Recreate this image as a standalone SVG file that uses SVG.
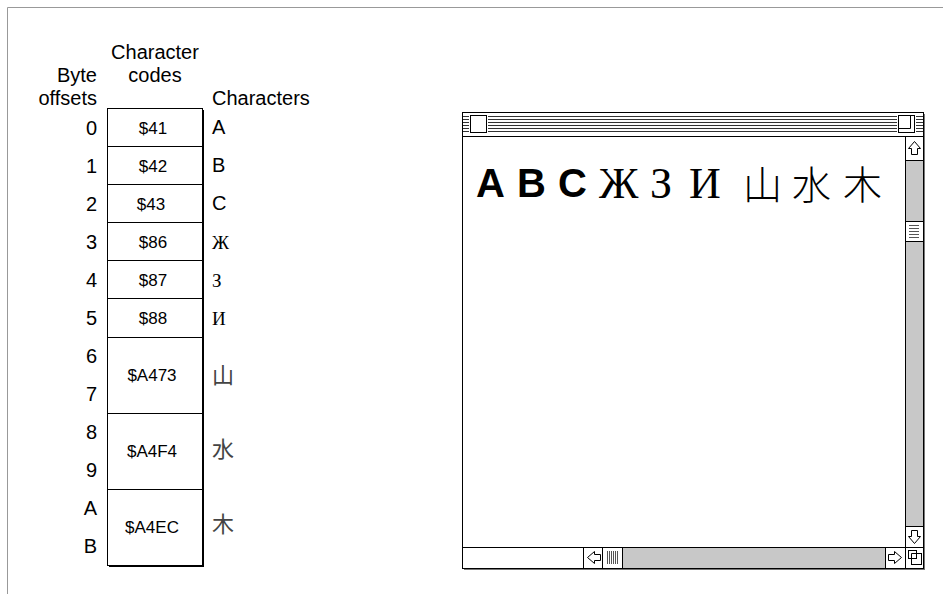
<svg xmlns="http://www.w3.org/2000/svg" width="943" height="594" viewBox="0 0 943 594">
<style>
.lbl{font-family:"Liberation Sans",Arial,sans-serif;font-size:20px;fill:#000}
.num{font-family:"Liberation Sans",Arial,sans-serif;font-size:20px;fill:#000;text-anchor:end}
.code{font-family:"Liberation Sans",Arial,sans-serif;font-size:17px;fill:#000;text-anchor:middle}
.cyr{font-family:"Liberation Serif","Times New Roman",serif;font-size:19px;fill:#000}
.cjk{font-family:"Noto Sans CJK JP","Noto Sans CJK SC",sans-serif;font-size:22px;fill:#444}
.bigA{font-family:"Liberation Sans",Arial,sans-serif;font-size:40px;font-weight:bold;fill:#000}
.bigC{font-family:"Liberation Serif","Times New Roman",serif;font-size:44px;fill:#000}
.bigK{font-family:"Noto Sans CJK JP","Noto Sans CJK SC",sans-serif;font-size:39px;font-weight:300;fill:#000}
.ln{stroke:#000;stroke-width:1;fill:none}
.stripe{stroke:#333;stroke-width:1}
.arrow{fill:#fff;stroke:#000;stroke-width:1;stroke-linejoin:miter}
</style>
<rect width="943" height="594" fill="#fff"/>
<path d="M7.5,594 V7.5 H943" fill="none" stroke="#999" stroke-width="1"/>

<g id="headers">
<text class="lbl" x="155" y="59" text-anchor="middle">Character</text>
<text class="lbl" x="155" y="82" text-anchor="middle">codes</text>
<text class="num" x="97" y="82">Byte</text>
<text class="num" x="97" y="105">offsets</text>
<text class="lbl" x="212" y="105">Characters</text>
</g>

<g id="table">
<rect x="109" y="110" width="95" height="457" fill="#000"/>
<rect x="107.5" y="108.5" width="95" height="457" fill="#fff" stroke="#000" stroke-width="1"/>
<path class="ln" d="M107.5,146.5 H202.5 M107.5,184.5 H202.5 M107.5,222.5 H202.5 M107.5,260.5 H202.5 M107.5,298.5 H202.5 M107.5,337.5 H202.5 M107.5,413.5 H202.5 M107.5,489.5 H202.5"/>
</g>

<g id="offsets">
<text class="num" x="97" y="135">0</text>
<text class="num" x="97" y="173">1</text>
<text class="num" x="97" y="211">2</text>
<text class="num" x="97" y="249">3</text>
<text class="num" x="97" y="287">4</text>
<text class="num" x="97" y="325">5</text>
<text class="num" x="97" y="363">6</text>
<text class="num" x="97" y="401">7</text>
<text class="num" x="97" y="439">8</text>
<text class="num" x="97" y="477">9</text>
<text class="num" x="97" y="515">A</text>
<text class="num" x="97" y="553">B</text>
</g>

<g id="codes">
<text class="code" x="153" y="134">$41</text>
<text class="code" x="153" y="172">$42</text>
<text class="code" x="151" y="210">$43</text>
<text class="code" x="153" y="248">$86</text>
<text class="code" x="153" y="286">$87</text>
<text class="code" x="153" y="324">$88</text>
<text class="code" x="152" y="381">$A473</text>
<text class="code" x="152" y="457">$A4F4</text>
<text class="code" x="152" y="533">$A4EC</text>
</g>

<g id="characters">
<text class="lbl" x="212" y="134">A</text>
<text class="lbl" x="212" y="172">B</text>
<text class="lbl" x="212" y="210">C</text>
<text class="cyr" x="212" y="249">Ж</text>
<text class="cyr" x="212" y="287">З</text>
<text class="cyr" x="212" y="325">И</text>
<text class="cjk" x="212" y="383">山</text>
<text class="cjk" x="212" y="457">水</text>
<text class="cjk" x="212" y="532">木</text>
</g>

<g id="window">
<rect x="464" y="114" width="461" height="456" fill="#777"/>
<rect x="462.5" y="112.5" width="461" height="456" fill="#fff" stroke="#000" stroke-width="1"/>
<path class="stripe" d="M463,116.5 H923 M463,119.5 H923 M463,122.5 H923 M463,125.5 H923 M463,128.5 H923 M463,131.5 H923"/>
<rect x="469" y="114" width="19" height="21" fill="#fff"/>
<rect x="470.5" y="115.5" width="16" height="17" fill="#fff" stroke="#000"/>
<rect x="897" y="114" width="19" height="21" fill="#fff"/>
<rect x="898.5" y="115.5" width="16" height="17" fill="#fff" stroke="#000"/>
<path class="ln" d="M898.5,128.5 H910.5 V115.5"/>
<path class="ln" d="M462.5,136.5 H923.5"/>

<rect x="905" y="160" width="18" height="367" fill="#c8c8c8"/>
<path class="ln" d="M905.5,136.5 V568 M905.5,160.5 H923.5 M905.5,526.5 H923.5"/>
<rect x="905.5" y="221.5" width="18" height="20" fill="#fff" stroke="#000"/>
<path d="M909,225.5 H919 M909,228.5 H919 M909,231.5 H919 M909,234.5 H919 M909,237.5 H919" stroke="#555" stroke-width="1"/>
<path class="arrow" d="M914.5,141.5 L920.5,148.5 H917.5 V154.5 H911.5 V148.5 H908.5 Z"/>
<path class="arrow" d="M914.5,543.5 L920.5,536.5 H917.5 V530.5 H911.5 V536.5 H908.5 Z"/>

<path class="ln" d="M462.5,547.5 H923.5"/>
<rect x="622" y="548" width="263" height="20" fill="#c8c8c8"/>
<path class="ln" d="M583.5,547.5 V568 M602.5,547.5 V568 M622.5,547.5 V568 M885.5,547.5 V568"/>
<path d="M607.5,551 V564 M609.5,551 V564 M611.5,551 V564 M613.5,551 V564 M615.5,551 V564 M617.5,551 V564" stroke="#555" stroke-width="1"/>
<path class="arrow" d="M587.5,557.5 L594.5,551.5 V554.5 H600.5 V560.5 H594.5 V563.5 Z"/>
<path class="arrow" d="M901.5,557.5 L894.5,551.5 V554.5 H888.5 V560.5 H894.5 V563.5 Z"/>
<rect x="911.5" y="553.5" width="10" height="11" fill="none" stroke="#000"/>
<rect x="908.5" y="550.5" width="8" height="8" fill="#fff" stroke="#000"/>
<path class="ln" d="M911.5,558.5 V553.5 H916.5"/>

<text class="bigA" x="476" y="197">A</text>
<text class="bigA" x="517" y="197">B</text>
<text class="bigA" x="558" y="197">C</text>
<text class="bigC" x="599" y="198">Ж</text>
<text class="bigC" x="650" y="198">З</text>
<text class="bigC" x="689" y="198">И</text>
<text class="bigK" x="743" y="199">山</text>
<text class="bigK" x="792" y="199">水</text>
<text class="bigK" x="843" y="199">木</text>
</g>
</svg>
